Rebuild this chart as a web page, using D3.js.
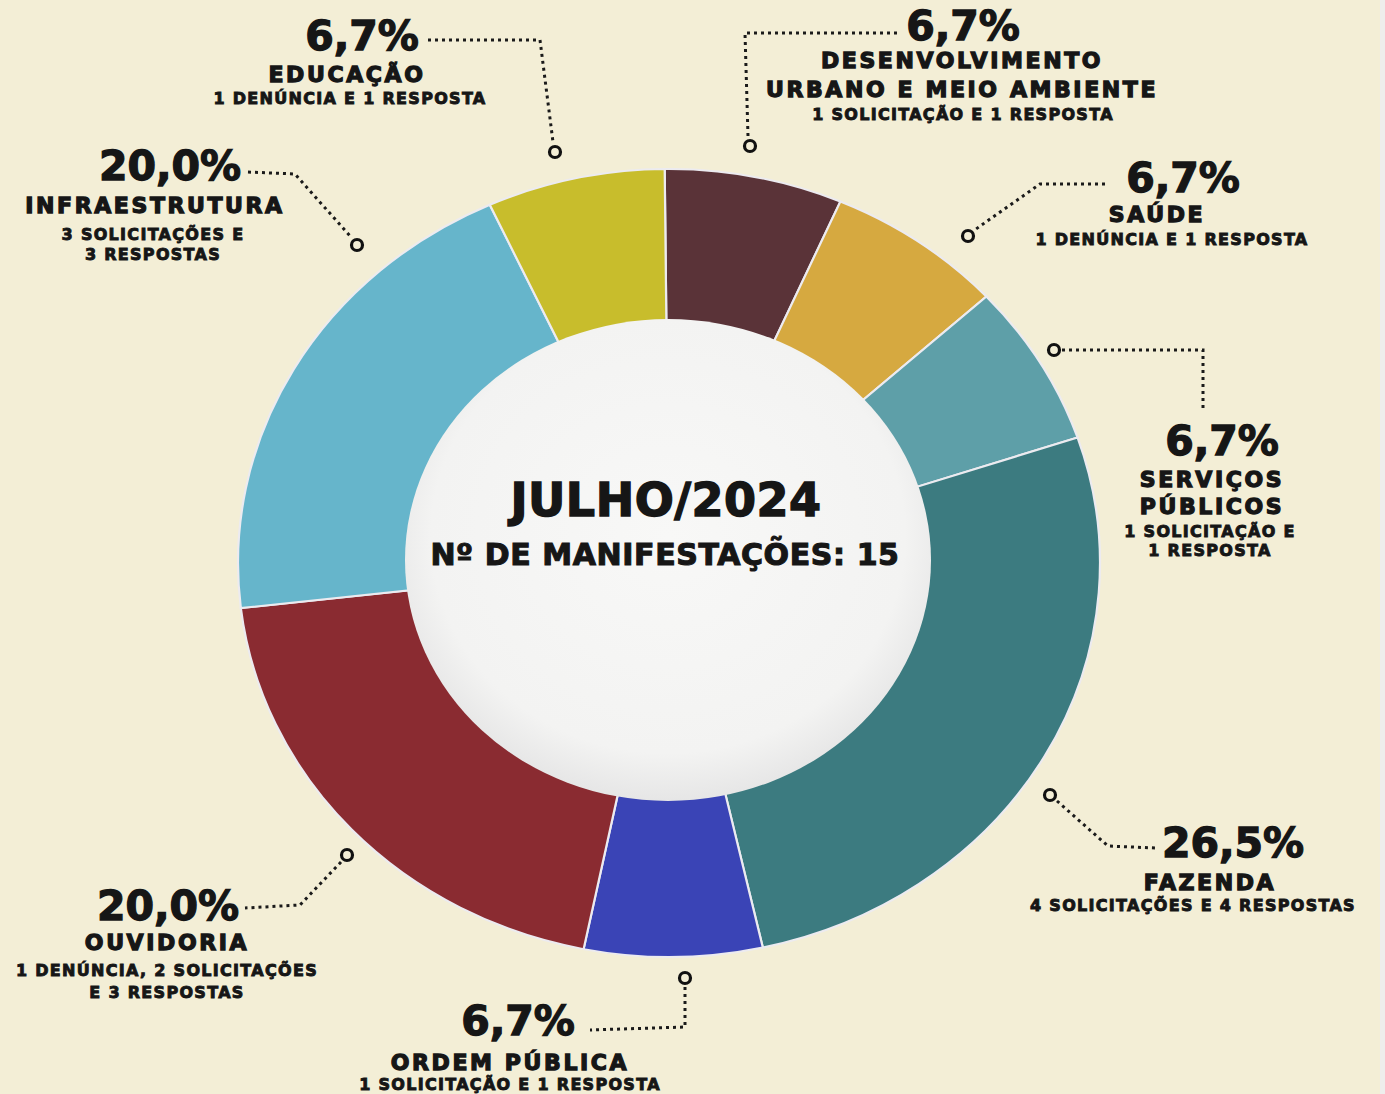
<!DOCTYPE html>
<html>
<head>
<meta charset="utf-8">
<title>Julho 2024</title>
<script src="https://d3js.org/d3.v7.min.js"></script>
<style>
  body { margin: 0; background: #f3eed6; }
  #chart text { font-family: "DejaVu Sans", sans-serif; font-weight: bold; fill: #161616; stroke: #161616; text-anchor: middle; }
</style>
</head>
<body>
<svg id="chart"></svg>
<script>
// data, clockwise from 12 o'clock
var categories = ["DESENVOLVIMENTO|URBANO E MEIO AMBIENTE", "SAÚDE", "SERVIÇOS|PÚBLICOS", "FAZENDA",
                  "ORDEM PÚBLICA", "OUVIDORIA", "INFRAESTRUTURA", "EDUCAÇÃO"];
var counts = [1, 1, 1, 4, 1, 3, 3, 1];
var pctLabels = ["6,7%", "6,7%", "6,7%", "26,5%", "6,7%", "20,0%", "20,0%", "6,7%"];
var details = ["1 SOLICITAÇÃO E 1 RESPOSTA", "1 DENÚNCIA E 1 RESPOSTA", "1 SOLICITAÇÃO E|1 RESPOSTA",
               "4 SOLICITAÇÕES E 4 RESPOSTAS", "1 SOLICITAÇÃO E 1 RESPOSTA",
               "1 DENÚNCIA, 2 SOLICITAÇÕES|E 3 RESPOSTAS", "3 SOLICITAÇÕES E|3 RESPOSTAS", "1 DENÚNCIA E 1 RESPOSTA"];
var colors = ["#5a3338", "#d6a940", "#5e9fa8", "#3c7b80", "#3a44b6", "#8a2b31", "#66b5cb", "#c8bd2c"];
var title = "JULHO/2024";
var subtitle = "Nº DE MANIFESTAÇÕES: 15";

// label layout (x center, baselines, leader path, anchor)
var layout = [
  {x: 963, pct: 40, name: [68, 97], det: [120], lead: [[897,33],[745,33],[748,136]], dot: [750,146]},
  {x: 1172, pct: 192, name: [222], det: [245], lead: [[1105,184],[1040,184],[976,229]], dot: [968,236]},
  {x: 1210, pct: 455, name: [487, 514], det: [537, 556], lead: [[1062,350],[1203,350],[1203,412]], dot: [1054,350]},
  {x: 1193, pct: 857, name: [890], det: [911], lead: [[1057,801],[1108,846],[1155,848]], dot: [1050,795]},
  {x: 510, pct: 1035, name: [1070], det: [1090], lead: [[685,987],[685,1027],[590,1030]], dot: [685,978]},
  {x: 167, pct: 920, name: [950], det: [976, 998], lead: [[341,862],[300,905],[245,908]], dot: [347,855]},
  {x: 153, pct: 180, name: [213], det: [240, 260], lead: [[248,172],[295,174],[350,236]], dot: [357,245]},
  {x: 350, pct: 50, name: [82], det: [104], lead: [[428,40],[540,40],[553,142]], dot: [555,152]}
];
var pctX = [963, 1183, 1222, 1233, 518, 168, 170, 362];
var nameX = [962, 1157, 1212, 1210, 510, 167, 155, 347];

var W = 1385, H = 1094;
var cx = 669, cy = 563, R = 431, ry = 0.914;

var svg = d3.select("#chart").attr("width", W).attr("height", H);
svg.append("rect").attr("width", W).attr("height", H).attr("fill", "#f3eed6");
svg.append("rect").attr("x", 1380).attr("width", 5).attr("height", H).attr("fill", "#eeeeec");

var defs = svg.append("defs");
var grad = defs.append("radialGradient").attr("id", "disc").attr("cx", "50%").attr("cy", "45%").attr("r", "55%");
grad.append("stop").attr("offset", "0%").attr("stop-color", "#f8f8f7");
grad.append("stop").attr("offset", "82%").attr("stop-color", "#f3f3f2");
grad.append("stop").attr("offset", "100%").attr("stop-color", "#e6e6e6");

var pie = d3.pie().sort(null).startAngle(-0.01).endAngle(2 * Math.PI - 0.01);
var arc = d3.arc().innerRadius(240).outerRadius(R);

var ring = svg.append("g")
  .attr("transform", "translate(" + cx + "," + cy + ") scale(1," + ry + ")");

ring.selectAll("path")
  .data(pie(counts))
  .enter()
  .append("path")
  .attr("d", arc)
  .attr("fill", function (d, i) { return colors[i]; })
  .attr("stroke", "#ecebf0")
  .attr("stroke-width", 2.2);

svg.append("ellipse")
  .attr("cx", 668).attr("cy", 560).attr("rx", 263).attr("ry", 241)
  .attr("fill", "url(#disc)");

svg.append("text").attr("x", 666).attr("y", 516)
  .style("font-size", "46px").style("letter-spacing", "0.5px").style("stroke-width", "1.4px").text(title);
svg.append("text").attr("x", 665).attr("y", 565)
  .style("font-size", "30px").style("letter-spacing", "0.6px").style("stroke-width", "1.1px").text(subtitle);

// callouts
var line = d3.line();
layout.forEach(function (L, i) {
  var g = svg.append("g");
  g.append("path").attr("d", line(L.lead)).attr("fill", "none")
    .attr("stroke", "#1a1a1a").attr("stroke-width", 3).attr("stroke-dasharray", "3,4");
  g.append("circle").attr("cx", L.dot[0]).attr("cy", L.dot[1]).attr("r", 5.5)
    .attr("fill", "#f3eed6").attr("stroke", "#111").attr("stroke-width", 3.2);
  g.append("text").attr("x", pctX[i]).attr("y", L.pct)
    .style("font-size", "41px").style("stroke-width", "1.3px").text(pctLabels[i]);
  categories[i].split("|").forEach(function (s, j) {
    g.append("text").attr("x", nameX[i]).attr("y", L.name[j])
      .style("font-size", "22px").style("letter-spacing", "2.6px").style("stroke-width", "1.3px").text(s);
  });
  details[i].split("|").forEach(function (s, j) {
    g.append("text").attr("x", L.x).attr("y", L.det[j])
      .style("font-size", "16px").style("letter-spacing", "1.3px").style("stroke-width", "0.9px").text(s);
  });
});
</script>
</body>
</html>
